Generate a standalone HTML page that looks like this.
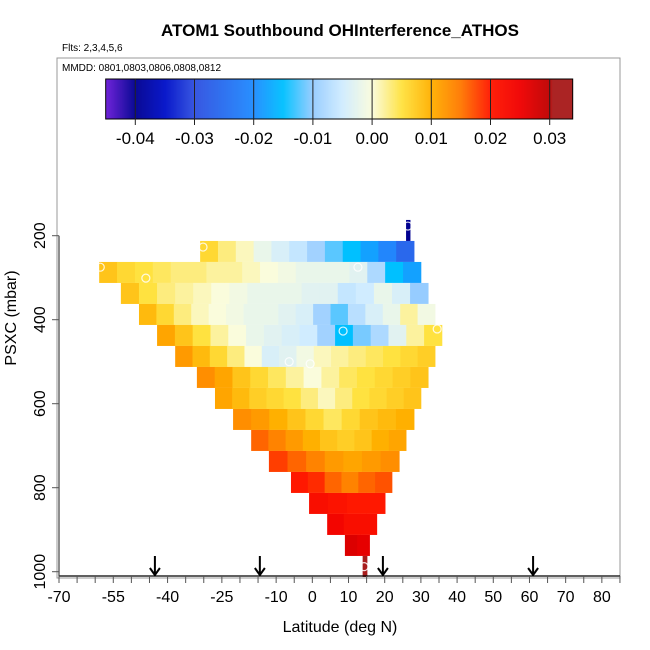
<!DOCTYPE html>
<html><head><meta charset="utf-8"><style>
body{margin:0;background:#fff;}
svg{display:block;font-family:"Liberation Sans",Arial,sans-serif;}
</style></head><body>
<svg id="chart" width="650" height="650" xmlns="http://www.w3.org/2000/svg">
<rect width="650" height="650" fill="#fff"/>
<text x="340" y="36" text-anchor="middle" font-size="17" font-weight="bold">ATOM1 Southbound OHInterference_ATHOS</text>
<text x="62" y="51" font-size="10">Flts: 2,3,4,5,6</text>
<rect x="57" y="58" width="563" height="520" fill="none" stroke="#999" stroke-width="1"/>
<text x="62" y="71" font-size="10">MMDD: 0801,0803,0806,0808,0812</text>
<g id="cells"></g>
<g id="markers"></g>
<g id="arrows"></g>
<g id="cbar"></g>
<g id="axes"></g>
<text x="340" y="632" text-anchor="middle" font-size="16">Latitude (deg N)</text>
<text transform="translate(16,318) rotate(-90)" text-anchor="middle" font-size="16">PSXC (mbar)</text>
</svg>
<script>
// ---- data ----
const rowTopP = [162.5,212.5,262.5,312.5,362.5,412.5,462.5,512.5,562.5,612.5,662.5,712.5,762.5,812.5,862.5,912.5,962.5];
const rowLatStart = [25.9,-31.0,-58.9,-52.9,-47.9,-42.9,-37.9,-31.9,-26.9,-21.9,-16.9,-12.0,-5.9,-0.9,4.1,9.0,13.9];
const rowLatEnd = [27.0,28.1,30.0,32.0,33.9,35.8,33.9,32.0,30.0,28.1,25.9,24.0,22.0,20.1,17.8,15.8,15.1];
const rowValues = [
 [-0.040],
 [0.006,0.003,0.001,-0.002,-0.004,-0.006,-0.009,-0.012,-0.015,-0.018,-0.021,-0.026],
 [0.008,0.006,0.005,0.004,0.003,0.003,0.002,0.002,0.001,0.0,-0.001,-0.002,-0.002,-0.002,-0.003,-0.008,-0.015,-0.018],
 [0.008,0.005,0.003,0.002,0.001,0.0,-0.001,-0.002,-0.002,-0.002,-0.003,-0.003,-0.006,-0.005,-0.002,-0.004,-0.010],
 [0.009,0.006,0.003,0.001,0.0,-0.001,-0.002,-0.002,-0.003,-0.004,-0.009,-0.012,-0.007,-0.004,-0.002,0.002,-0.001],
 [0.011,0.008,0.005,0.002,0.0,-0.002,-0.003,-0.004,-0.005,-0.009,-0.015,-0.011,-0.008,-0.003,0.002,0.005],
 [0.012,0.009,0.006,0.003,0.0,-0.004,-0.003,-0.001,0.001,0.002,0.003,0.004,0.005,0.006,0.007],
 [0.013,0.011,0.008,0.006,0.004,0.002,0.0,0.002,0.004,0.005,0.006,0.007,0.008],
 [0.011,0.009,0.007,0.006,0.005,0.003,0.001,0.003,0.005,0.006,0.007,0.008],
 [0.013,0.012,0.010,0.008,0.006,0.004,0.006,0.008,0.009,0.010],
 [0.016,0.014,0.012,0.010,0.008,0.007,0.008,0.010,0.011],
 [0.018,0.016,0.014,0.012,0.011,0.012,0.013],
 [0.020,0.019,0.016,0.014,0.016,0.017],
 [0.022,0.021,0.020,0.020],
 [0.024,0.022,0.022],
 [0.027,0.026],
 [0.034]
];
const markerLat = [-30.2,-58.6,-46.0,12.6,8.5,34.5,-6.4,-0.6,26.4,14.3];
const markerP = [227,275,301,275,427,422,500,505,177,988];
const arrowLat = [-43.5,-14.5,19.5,61.0];
const xTickLabels = [-70,-55,-40,-25,-10,0,10,20,30,40,50,60,70,80];
const yTickLabels = [200,400,600,800,1000];
const cbarTicks = [-0.04,-0.03,-0.02,-0.01,0.00,0.01,0.02,0.03];

// ---- scales ----
const X = lat => 59 + (lat + 70) * 3.619;
const Y = p => 235.7 + (p - 200) * 0.42;
const CB = v => 135.3 + (v + 0.04) * 5920;
const CBinv = x => (x - 135.3) / 5920 - 0.04;
const stops = [[-0.046,[128,32,230]],[-0.04,[0,0,144]],[-0.035,[0,16,200]],[-0.03,[48,80,224]],[-0.02,[32,140,255]],[-0.015,[0,192,255]],[-0.01,[150,204,255]],[-0.005,[208,236,255]],[0,[250,252,220]],[0.005,[255,226,64]],[0.01,[255,176,0]],[0.015,[255,120,0]],[0.02,[255,24,0]],[0.025,[240,0,0]],[0.03,[190,0,0]],[0.0305,[168,28,28]],[0.044,[168,28,28]]];
function col(v){
  if(v<=stops[0][0])return 'rgb('+stops[0][1]+')';
  for(let i=1;i<stops.length;i++){
    if(v<=stops[i][0]){const a=stops[i-1],b=stops[i],t=(v-a[0])/(b[0]-a[0]);
      return 'rgb('+a[1].map((c,k)=>Math.round(c+(b[1][k]-c)*t)).join(',')+')';}
  }
  return 'rgb('+stops[stops.length-1][1]+')';
}
const NS='http://www.w3.org/2000/svg';
function mk(tag,attrs,parent){const e=document.createElementNS(NS,tag);for(const k in attrs)e.setAttribute(k,attrs[k]);parent.appendChild(e);return e;}

// heatmap
const cells=document.getElementById('cells');
rowValues.forEach((vals,r)=>{
  const w=(rowLatEnd[r]-rowLatStart[r])/vals.length;
  vals.forEach((v,i)=>{
    const x0=X(rowLatStart[r]+i*w), x1=X(rowLatStart[r]+(i+1)*w);
    const e=mk('rect',{x:x0,y:Y(rowTopP[r]),width:x1-x0+0.4,height:Y(rowTopP[r]+50)-Y(rowTopP[r]),fill:col(v)},cells);
    
    
  });
});
// markers
const mg=document.getElementById('markers');
markerLat.forEach((lat,i)=>{
  const e=mk('circle',{cx:X(lat),cy:Y(markerP[i]),r:4,fill:'none',stroke:'#fff','stroke-width':1.2,opacity:0.85},mg);
  
  
});
// arrows
const ag=document.getElementById('arrows');
arrowLat.forEach(lat=>{
  const x=X(lat);
  const e=mk('path',{d:`M${x},556 L${x},575 M${x-5},568 L${x},575 L${x+5},568`,stroke:'#000','stroke-width':2,fill:'none'},ag);
  
  
});
// colorbar
const cg=document.getElementById('cbar');
for(let x=105.7;x<572.7;x+=1){
  mk('rect',{x:x,y:79,width:1.2,height:40,fill:col(CBinv(x+0.5))},cg);
}
mk('rect',{x:105.7,y:79,width:467,height:40,fill:'none',stroke:'#000','stroke-width':1},cg);
cbarTicks.forEach(v=>{
  const x=CB(v);
  mk('line',{x1:x,y1:79,x2:x,y2:125,stroke:'#222','stroke-width':1},cg);
  const t=mk('text',{x:x,y:144,'text-anchor':'middle','font-size':17},cg);
  t.textContent=v.toFixed(2);
  
  
});
// axes
const ax=document.getElementById('axes');
mk('line',{x1:59,y1:576,x2:620,y2:576,stroke:'#000','stroke-width':1.2},ax);
mk('line',{x1:59,y1:Y(200),x2:59,y2:576,stroke:'#444','stroke-width':1.2},ax);
for(let lat=-70;lat<=85;lat+=5){
  mk('line',{x1:X(lat),y1:576,x2:X(lat),y2:583,stroke:'#555','stroke-width':1},ax);
}
xTickLabels.forEach(l=>{
  const t=mk('text',{x:X(l),y:602,'text-anchor':'middle','font-size':16},ax);
  t.textContent=l;
  
  
});
yTickLabels.forEach(p=>{
  const y=Y(p);
  mk('line',{x1:52,y1:y,x2:59,y2:y,stroke:'#555','stroke-width':1},ax);
  const t=mk('text',{transform:`translate(45,${y}) rotate(-90)`,'text-anchor':'middle','font-size':16},ax);
  t.textContent=p;
  
  
});
</script>
</body></html>
